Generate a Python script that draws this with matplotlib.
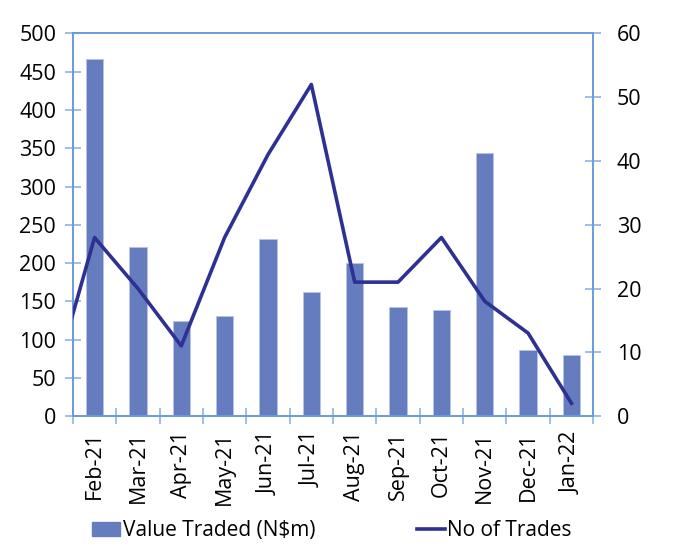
import matplotlib.pyplot as plt
import numpy as np
from matplotlib.patches import Patch
from matplotlib.lines import Line2D

months = ['Feb-21', 'Mar-21', 'Apr-21', 'May-21', 'Jun-21', 'Jul-21',
          'Aug-21', 'Sep-21', 'Oct-21', 'Nov-21', 'Dec-21', 'Jan-22']
value_traded = [467, 221, 124, 131, 231, 162, 200, 143, 139, 344, 86, 80]
# line series also has the previous month (Jan-21), which is clipped at the left edge
trade_months = ['Jan-21'] + months
no_of_trades = [4, 28, 20, 11, 28, 41, 52, 21, 21, 28, 18, 13, 2]

plt.rcParams['font.family'] = ['Open Sans', 'DejaVu Sans']
spine_c = '#6A9BDA'
tick_c = '#8DB4E2'
bar_c = '#657CBF'
line_c = '#2E3192'

fig = plt.figure(figsize=(6.81, 5.5), dpi=100)
ax = fig.add_axes([0.107, 0.2436, 0.764, 0.6955])
x = np.arange(len(months))
ax.bar(x, value_traded, width=0.4, color=bar_c, edgecolor='#B8C4E4', linewidth=0.6, zorder=2)
ax.set_xlim(-0.5, len(months) - 0.5)
ax.set_ylim(0, 500)
ax.set_yticks(range(0, 501, 50))

ax2 = ax.twinx()
x2 = np.arange(len(trade_months)) - 1
ax2.plot(x2, no_of_trades, color=line_c, linewidth=2.6, zorder=3)
ax2.set_ylim(0, 60)
ax2.set_yticks(range(0, 61, 10))
ax2.set_xlim(-0.5, len(months) - 0.5)

for a in (ax, ax2):
    for s in a.spines.values():
        s.set_color(spine_c)
        s.set_linewidth(1.2)

ax.set_xticks(x)
ax.set_xticklabels(months, rotation=90, fontsize=15.5)
ax.tick_params(axis='x', which='major', length=0, pad=11)
ax.set_xticks(np.arange(-0.5, len(months)), minor=True)
ax.tick_params(axis='x', which='minor', direction='inout', length=12, color=tick_c, width=1.2)
ax.tick_params(axis='y', direction='inout', length=12, color=tick_c, width=1.2, labelsize=15.5, pad=6)
ax2.tick_params(axis='y', direction='inout', length=12, color=tick_c, width=1.2, labelsize=15.5, pad=11)

handles = [Patch(facecolor=bar_c, edgecolor=bar_c), Line2D([0], [0], color=line_c, linewidth=2.6)]
fig.legend(handles, ['Value Traded (N$m)', 'No of Trades'], loc='lower left',
           bbox_to_anchor=(0.108, -0.018), ncol=2, frameon=False, fontsize=15,
           columnspacing=4.9, handlelength=1.35, handletextpad=0.1)

fig.savefig('out.png', dpi=100)
